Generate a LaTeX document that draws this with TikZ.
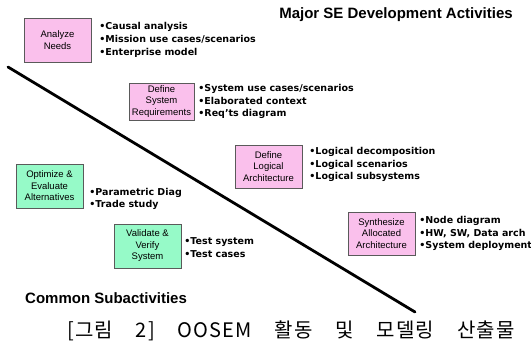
\documentclass[tikz,border=0pt]{standalone}
\usepackage{fontspec}
\setmainfont{Liberation Sans}
\newfontfamily\listfont{DejaVu Sans}
\newfontfamily\capfont[LetterSpace=6,WordSpace=4]{Noto Sans CJK KR}
\usetikzlibrary{positioning}
\definecolor{actpink}{RGB}{250,192,236}
\definecolor{actgreen}{RGB}{150,250,200}
\definecolor{boxline}{RGB}{90,90,90}
\tikzstyle{major} = [rectangle, minimum width=67pt, minimum height=44pt, inner sep=1pt, align=center, draw=boxline, fill=actpink, font=\fontsize{9.5}{11.5}\selectfont]
\tikzstyle{common} = [major, fill=actgreen]
\tikzstyle{items} = [inner sep=0pt, align=left, font=\listfont\bfseries\fontsize{9.5}{12.8}\selectfont]
\tikzstyle{heading} = [inner sep=0pt, font=\bfseries\fontsize{15}{18}\selectfont]
\tikzstyle{divider} = [line width=2.8pt, line cap=round]

\begin{document}
\begin{tikzpicture}[x=1pt, y=-1pt]
    \useasboundingbox (0,0) rectangle (531,350);
    \node (title) [heading] at (396,15) {Major SE Development Activities};
    \node (sub) [heading, anchor=west] at (25,298) {Common Subactivities};

    \node (needs) [major] at (57.5,40) {Analyze\\Needs};
    \node (sysreq) [major, minimum width=65pt, minimum height=37pt] at (161.5,101.5) {Define\\System\\Requirements};
    \node (logarch) [major, minimum height=43pt] at (268.5,166.5) {Define\\Logical\\Architecture};
    \node (synth) [major, minimum height=43pt] at (381.5,233.5) {Synthesize\\Allocated\\Architecture};
    \node (optim) [common] at (49.5,186) {Optimize \&\\Evaluate\\Alternatives};
    \node (valid) [common] at (147.5,246) {Validate \&\\Verify\\System};

    \node (needsList) [items, right=8pt of needs] {•Causal analysis\\•Mission use cases/scenarios\\•Enterprise model};
    \node (sysreqList) [items, right=4pt of sysreq] {•System use cases/scenarios\\•Elaborated context\\•Req’ts diagram};
    \node (logarchList) [items, right=7pt of logarch, yshift=2pt] {•Logical decomposition\\•Logical scenarios\\•Logical subsystems};
    \node (synthList) [items, right=4pt of synth] {•Node diagram\\•HW, SW, Data arch\\•System deployment};
    \node (optimList) [items, right=6pt of optim, yshift=-13pt] {•Parametric Diag\\•Trade study};
    \node (validList) [items, right=3pt of valid, yshift=-2pt] {•Test system\\•Test cases};

    % dividing line between the two groups
    \coordinate (lineTop) at (8,67);
    \coordinate (lineEnd) at (415,312);
    \draw [divider] (lineTop) -- (lineEnd);

    \node (caption) [inner sep=0pt, font=\capfont\fontsize{20}{24}\selectfont] at (291,331) {[그림 2] OOSEM 활동 및 모델링 산출물};
\end{tikzpicture}
\end{document}
